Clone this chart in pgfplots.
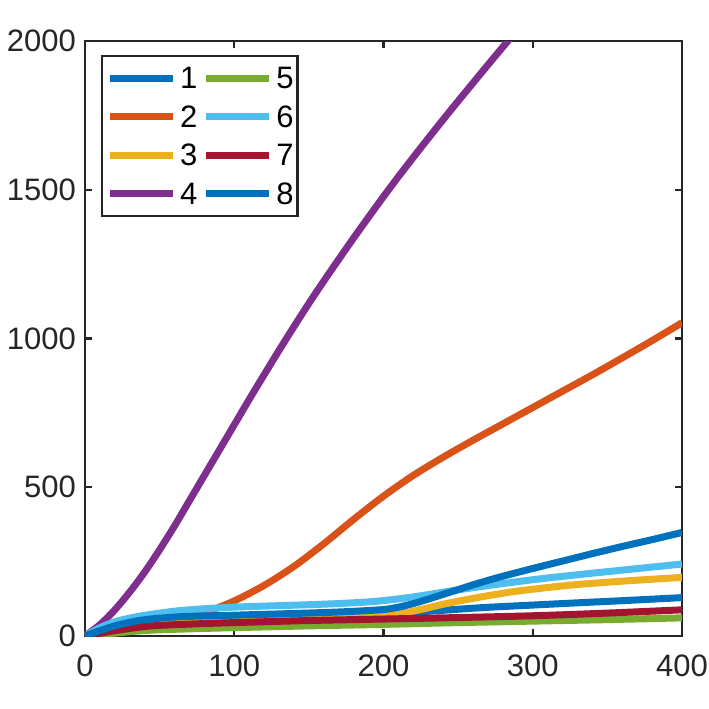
\documentclass[border=0pt]{standalone}
\usepackage{fontspec}
\setmainfont{Liberation Sans}
\usepackage{pgfplots}
\pgfplotsset{compat=1.18}
\definecolor{c1}{rgb}{0,0.447,0.741}
\definecolor{c2}{rgb}{0.85,0.325,0.098}
\definecolor{c3}{rgb}{0.929,0.694,0.125}
\definecolor{c4}{rgb}{0.494,0.184,0.556}
\definecolor{c5}{rgb}{0.466,0.674,0.188}
\definecolor{c6}{rgb}{0.301,0.745,0.933}
\definecolor{c7}{rgb}{0.635,0.078,0.184}
\definecolor{ax}{HTML}{262626}
\begin{document}
\begin{tikzpicture}
\path[use as bounding box] (-42.5pt,-36.5pt) rectangle (312pt,318pt);
\begin{axis}[
  at={(0,0)}, anchor=south west,
  scale only axis, width=298.5pt, height=297.5pt,
  xmin=0, xmax=400, ymin=0, ymax=2000,
  xtick={0,100,...,400}, ytick={0,500,...,2000},
  scaled ticks=false,
  /pgf/number format/1000 sep={},
  /pgf/number format/assume math mode=true,
  tick pos=both, tick align=inside,
  major tick length=3.5pt,
  axis line style={ax, line width=1.2pt},
  every tick/.style={ax, line width=1.2pt},
  tick label style={font=\fontsize{15.5}{18}\selectfont, text=ax},
  xticklabel style={yshift=-6pt},
  yticklabel style={xshift=-1pt},
  legend columns=4,
  transpose legend,
  legend cell align=left,
  legend style={at={(0.0268,0.9765)}, anchor=north west,
    draw=ax, line width=1.2pt, fill=white,
    font=\fontsize{15.5}{18}\selectfont,
    inner xsep=2pt, inner ysep=1.5pt,
    column sep=2pt,
    nodes={inner xsep=0pt, inner ysep=0pt, text height=14.9pt, text depth=4.3pt}},
  /tikz/every even column/.append style={column sep=2.5pt},
  legend image code/.code={\draw[#1] (0pt,0pt) -- (31.5pt,0pt);},
  every axis plot/.append style={line width=3.5pt, smooth},
]
% 1
\addplot[c1] coordinates {(0,0) (10,16) (20,30) (35,42) (50,50) (75,57) (100,62) (150,68) (200,74) (233,84) (265,95) (300,104) (332,112) (365,120) (400,129)};
% 2
\addplot[c2] coordinates {(0,0) (20,10) (40,26) (60,48) (80,78) (100,118) (120,170) (140,234) (160,310) (180,392) (200,470) (220,540) (240,601) (260,658) (280,713) (300,768) (320,823) (340,878) (360,935) (380,993) (400,1053)};
% 3
\addplot[c3] coordinates {(0,0) (10,14) (20,24) (35,34) (50,40) (100,50) (150,57) (180,62) (195,66) (210,74) (225,89) (243,110) (265,131) (287,149) (310,163) (332,174) (365,186) (400,197)};
% 4
\addplot[c4] coordinates {(0,0) (10,38) (20,88) (30,148) (40,215) (50,290) (60,370) (70,455) (80,540) (90,625) (100,710) (110,795) (120,878) (130,960) (140,1040) (150,1118) (160,1193) (170,1266) (180,1338) (190,1408) (200,1477) (210,1544) (220,1609) (230,1673) (240,1736) (250,1798) (260,1859) (270,1920) (280,1980) (290,2040)};
% 5
\addplot[c5] coordinates {(0,0) (10,5) (20,10) (42,19) (70,24) (100,28) (150,34) (200,39) (250,45) (300,50) (350,55) (400,61)};
% 6
\addplot[c6] coordinates {(0,0) (10,28) (20,48) (30,60) (42,71) (65,86) (100,97) (155,106) (185,113) (200,119) (215,128) (230,139) (243,150) (265,166) (287,181) (310,195) (332,207) (365,224) (400,242)};
% 7
\addplot[c7] coordinates {(0,0) (10,9) (20,18) (42,33) (70,40) (100,45) (150,52) (200,57) (250,62) (300,68) (350,77) (400,88)};
% 8
\addplot[c1] coordinates {(0,0) (10,18) (20,34) (30,46) (42,56) (65,65) (100,70) (155,78) (180,83) (200,89) (210,97) (220,109) (230,124) (240,140) (250,156) (260,172) (270,187) (280,201) (300,227) (320,252) (340,277) (360,301) (380,324) (400,348)};
\legend{1,2,3,4,5,6,7,8}
\end{axis}
\end{tikzpicture}
\end{document}
